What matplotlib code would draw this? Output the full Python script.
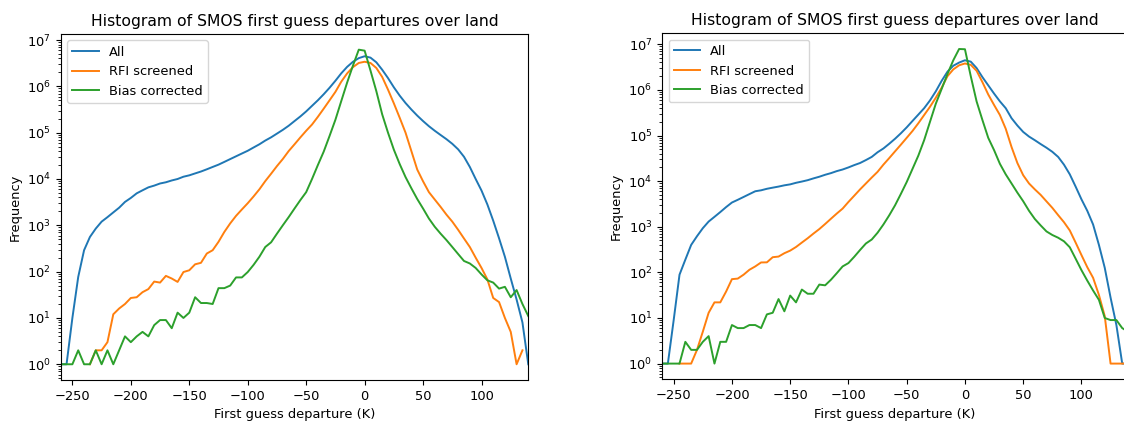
import numpy as np
import matplotlib
matplotlib.use("Agg")
import matplotlib.pyplot as plt

nan = np.nan

# bin centres of the first guess departure histogram (K)
departure = list(range(-260, 141, 5))

# left panel counts
left_all = [1, 1, 10, 77, 290, 560, 850, 1200, 1500, 1900, 2400, 3200, 3900, 4900, 5700, 6600,
            7200, 8000, 8500, 9300, 10000, 11200, 12000, 13200, 14500, 16200, 18200, 20400,
            23400, 26900, 30900, 35500, 40700, 47900, 56200, 67600, 79400, 95500, 115000,
            141000, 178000, 224000, 288000, 380000, 501000, 676000, 933000, 1320000, 1910000,
            2630000, 3390000, 4070000, 4470000, 4170000, 3310000, 2290000, 1510000, 955000,
            631000, 437000, 316000, 234000, 178000, 138000, 110000, 89100, 72400, 57500, 43700,
            30200, 18200, 10000, 5620, 2820, 1260, 525, 209, 71, 25, 8, 1]
left_rfi = [nan, nan, nan, nan, nan, 1, 2, 2, 3, 12, 16, 20, 27, 28, 36, 42, 61, 58, 81, 71, 60,
            98, 107, 144, 155, 246, 290, 440, 720, 1100, 1600, 2200, 3000, 4200, 6000, 9000,
            13000, 19000, 27000, 40000, 56000, 79000, 110000, 150000, 220000, 330000, 500000,
            760000, 1260000, 1900000, 2600000, 3200000, 3400000, 3200000, 2500000, 1600000,
            850000, 430000, 210000, 100000, 40000, 16000, 8900, 5200, 3600, 2500, 1700, 1200,
            800, 520, 340, 200, 120, 68, 27, 22, 10, 5, 1, 2, nan]
left_bias = [1, 1, 1, 2, 1, 1, 2, 1, 2, 1, 2, 4, 3, 4, 5, 4, 7, 9, 9, 6, 13, 10, 13, 28, 21, 21,
             20, 44, 44, 50, 75, 75, 98, 140, 210, 340, 430, 660, 1000, 1500, 2300, 3500, 5200,
             10000, 20000, 39000, 85000, 190000, 480000, 1200000, 2800000, 6200000, 5900000,
             2200000, 790000, 250000, 100000, 43000, 21000, 11000, 6300, 3700, 2300, 1400, 930,
             660, 480, 340, 240, 170, 150, 120, 87, 65, 58, 43, 47, 28, 40, 20, 11]

# right panel counts
right_all = [1, 1, 9, 89, 190, 400, 620, 930, 1300, 1650, 2100, 2700, 3400, 3900, 4500, 5200,
             6000, 6300, 6800, 7200, 7600, 8100, 8500, 9200, 9800, 10500, 11500, 12500, 13800,
             15000, 16600, 18000, 20000, 22500, 25000, 29000, 34000, 43000, 52000, 66000, 85000,
             112000, 151000, 209000, 288000, 398000, 589000, 933000, 1580000, 2510000, 3390000,
             3980000, 4470000, 4170000, 3020000, 1910000, 1260000, 832000, 562000, 398000,
             240000, 166000, 120000, 95000, 79000, 65000, 54000, 44000, 34000, 23000, 14100,
             7600, 4000, 2240, 1120, 400, 126, 28, 7, 1, 1]
right_rfi = [nan, nan, nan, 1, 1, 1, 2, 5, 13, 22, 22, 38, 71, 73, 89, 114, 135, 165, 166, 215,
             222, 263, 300, 360, 450, 560, 710, 890, 1150, 1500, 1950, 2500, 3500, 4800, 6600,
             8900, 12000, 16000, 23000, 32000, 45000, 63000, 89000, 126000, 186000, 282000,
             427000, 676000, 1120000, 2000000, 2820000, 3470000, 3800000, 3550000, 2630000,
             1480000, 794000, 468000, 282000, 141000, 56000, 25000, 13500, 8900, 6600, 5000,
             3600, 2600, 1800, 1260, 830, 450, 240, 130, 76, 32, 11, 1, 1, 1, 1]
right_bias = [1, 1, 1, 1, 3, 2, 2, 3, 4, 1, 3, 3, 7, 6, 6, 7, 7, 6, 12, 13, 26, 14, 31, 22, 42,
              34, 34, 54, 52, 69, 96, 135, 160, 220, 310, 430, 525, 740, 1120, 1780, 2950, 5250,
              9550, 18600, 36300, 79400, 200000, 500000, 1050000, 2240000, 4470000, 7900000,
              7800000, 2000000, 560000, 219000, 89000, 47900, 24000, 14100, 8900, 5600, 3630,
              2240, 1480, 1070, 790, 660, 575, 480, 355, 200, 112, 66, 40, 25, 10, 9, 9, 6, 5]

labels = ["All", "RFI screened", "Bias corrected"]

plt.rcParams["font.size"] = 9.4
plt.rcParams["lines.linewidth"] = 1.4


def draw_panel(ax, series):
    for values, label in zip(series, labels):
        ax.plot(departure, values, label=label)
    ax.set_yscale("log")
    ax.set_xlim(-260, 140)
    ax.set_title("Histogram of SMOS first guess departures over land")
    ax.set_xlabel("First guess departure (K)")
    ax.set_ylabel("Frequency")
    ax.legend(loc="upper left")


fig = plt.figure(figsize=(11.24, 4.21), dpi=100)
ax_left = fig.add_axes([0.054, 0.0974, 0.416, 0.822])
ax_right = fig.add_axes([0.589, 0.099, 0.4146, 0.822])

draw_panel(ax_left, [left_all, left_rfi, left_bias])
draw_panel(ax_right, [right_all, right_rfi, right_bias])

fig.savefig("out.png", dpi=100)
